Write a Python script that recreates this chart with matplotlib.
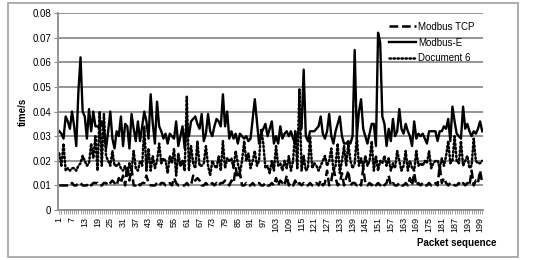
import matplotlib
matplotlib.use("Agg")
import matplotlib.pyplot as plt
from matplotlib.patches import Rectangle

plt.rcParams['font.family'] = ['Liberation Sans', 'DejaVu Sans']

packets = list(range(1, 201))

modbus_tcp = [
    0.010, 0.010, 0.010, 0.010, 0.010, 0.010, 0.011, 0.010, 0.010, 0.011,
    0.011, 0.010, 0.010, 0.010, 0.011, 0.010, 0.011, 0.011, 0.011, 0.010,
    0.010, 0.011, 0.011, 0.010, 0.011, 0.012, 0.011, 0.010, 0.013, 0.011,
    0.014, 0.010, 0.018, 0.012, 0.017, 0.010, 0.010, 0.011, 0.010, 0.011,
    0.011, 0.014, 0.011, 0.010, 0.010, 0.010, 0.011, 0.010, 0.011, 0.011,
    0.010, 0.010, 0.011, 0.010, 0.013, 0.011, 0.010, 0.010, 0.010, 0.010,
    0.011, 0.010, 0.010, 0.014, 0.012, 0.013, 0.012, 0.010, 0.010, 0.011,
    0.010, 0.010, 0.011, 0.010, 0.011, 0.010, 0.011, 0.011, 0.012, 0.011,
    0.010, 0.012, 0.011, 0.017, 0.013, 0.015, 0.010, 0.010, 0.011, 0.010,
    0.010, 0.011, 0.010, 0.010, 0.011, 0.010, 0.010, 0.011, 0.010, 0.010,
    0.011, 0.010, 0.013, 0.010, 0.012, 0.011, 0.010, 0.014, 0.010, 0.011,
    0.010, 0.012, 0.010, 0.011, 0.010, 0.011, 0.010, 0.010, 0.011, 0.010,
    0.010, 0.011, 0.010, 0.012, 0.010, 0.011, 0.016, 0.010, 0.012, 0.017,
    0.013, 0.010, 0.011, 0.015, 0.010, 0.013, 0.016, 0.010, 0.011, 0.011,
    0.010, 0.011, 0.010, 0.017, 0.011, 0.010, 0.011, 0.010, 0.011, 0.010,
    0.011, 0.010, 0.011, 0.010, 0.011, 0.014, 0.010, 0.011, 0.010, 0.010,
    0.011, 0.010, 0.010, 0.011, 0.010, 0.013, 0.010, 0.015, 0.010, 0.011,
    0.010, 0.011, 0.010, 0.010, 0.011, 0.010, 0.010, 0.011, 0.010, 0.018,
    0.011, 0.013, 0.011, 0.010, 0.011, 0.011, 0.010, 0.010, 0.011, 0.010,
    0.011, 0.010, 0.011, 0.010, 0.016, 0.010, 0.012, 0.011, 0.016, 0.011,
]

modbus_e = [
    0.032, 0.031, 0.029, 0.038, 0.036, 0.033, 0.040, 0.034, 0.026, 0.048,
    0.062, 0.040, 0.038, 0.029, 0.041, 0.032, 0.040, 0.034, 0.034, 0.033,
    0.036, 0.033, 0.025, 0.032, 0.040, 0.029, 0.025, 0.032, 0.030, 0.038,
    0.026, 0.035, 0.034, 0.025, 0.039, 0.033, 0.028, 0.036, 0.028, 0.034,
    0.040, 0.036, 0.029, 0.047, 0.035, 0.027, 0.044, 0.034, 0.032, 0.029,
    0.031, 0.027, 0.031, 0.030, 0.029, 0.036, 0.026, 0.030, 0.034, 0.025,
    0.036, 0.030, 0.036, 0.037, 0.038, 0.035, 0.033, 0.039, 0.028, 0.031,
    0.039, 0.032, 0.030, 0.034, 0.037, 0.036, 0.034, 0.047, 0.034, 0.040,
    0.029, 0.032, 0.029, 0.031, 0.027, 0.031, 0.030, 0.029, 0.030, 0.028,
    0.029, 0.037, 0.045, 0.036, 0.027, 0.031, 0.033, 0.035, 0.030, 0.033,
    0.036, 0.027, 0.030, 0.027, 0.034, 0.029, 0.031, 0.032, 0.030, 0.032,
    0.029, 0.027, 0.031, 0.033, 0.033, 0.057, 0.030, 0.028, 0.032, 0.032,
    0.032, 0.033, 0.034, 0.038, 0.031, 0.029, 0.032, 0.039, 0.030, 0.027,
    0.032, 0.035, 0.038, 0.030, 0.027, 0.027, 0.028, 0.027, 0.030, 0.065,
    0.030, 0.040, 0.045, 0.033, 0.030, 0.027, 0.031, 0.035, 0.035, 0.026,
    0.072, 0.068, 0.038, 0.035, 0.026, 0.033, 0.028, 0.037, 0.030, 0.032,
    0.041, 0.033, 0.031, 0.035, 0.032, 0.030, 0.026, 0.036, 0.029, 0.031,
    0.030, 0.031, 0.029, 0.027, 0.032, 0.032, 0.032, 0.032, 0.028, 0.032,
    0.032, 0.034, 0.033, 0.037, 0.028, 0.042, 0.036, 0.031, 0.030, 0.029,
    0.042, 0.033, 0.035, 0.032, 0.030, 0.032, 0.031, 0.033, 0.036, 0.032,
]

document6 = [
    0.023, 0.018, 0.027, 0.016, 0.017, 0.016, 0.017, 0.017, 0.016, 0.018,
    0.019, 0.022, 0.020, 0.018, 0.019, 0.027, 0.021, 0.030, 0.016, 0.040,
    0.018, 0.039, 0.022, 0.020, 0.018, 0.024, 0.018, 0.018, 0.019, 0.017,
    0.016, 0.018, 0.014, 0.019, 0.016, 0.024, 0.017, 0.016, 0.020, 0.018,
    0.034, 0.016, 0.025, 0.016, 0.022, 0.017, 0.020, 0.027, 0.019, 0.021,
    0.020, 0.015, 0.022, 0.019, 0.025, 0.014, 0.023, 0.018, 0.020, 0.016,
    0.046, 0.016, 0.026, 0.019, 0.017, 0.028, 0.018, 0.018, 0.019, 0.026,
    0.018, 0.014, 0.020, 0.018, 0.017, 0.022, 0.016, 0.028, 0.017, 0.021,
    0.020, 0.021, 0.017, 0.024, 0.019, 0.015, 0.020, 0.028, 0.020, 0.023,
    0.017, 0.020, 0.024, 0.018, 0.020, 0.033, 0.027, 0.017, 0.018, 0.015,
    0.020, 0.016, 0.026, 0.018, 0.019, 0.016, 0.020, 0.017, 0.022, 0.016,
    0.020, 0.032, 0.017, 0.049, 0.016, 0.022, 0.016, 0.017, 0.030, 0.017,
    0.019, 0.018, 0.016, 0.018, 0.020, 0.022, 0.018, 0.020, 0.025, 0.016,
    0.018, 0.027, 0.015, 0.020, 0.026, 0.018, 0.027, 0.020, 0.017, 0.019,
    0.030, 0.018, 0.021, 0.017, 0.022, 0.018, 0.020, 0.028, 0.016, 0.022,
    0.016, 0.020, 0.019, 0.022, 0.018, 0.021, 0.016, 0.019, 0.017, 0.024,
    0.020, 0.016, 0.018, 0.024, 0.016, 0.020, 0.017, 0.016, 0.024, 0.018,
    0.019, 0.018, 0.020, 0.019, 0.024, 0.017, 0.019, 0.020, 0.020, 0.017,
    0.021, 0.018, 0.022, 0.028, 0.019, 0.020, 0.030, 0.020, 0.019, 0.028,
    0.018, 0.020, 0.022, 0.017, 0.018, 0.029, 0.020, 0.019, 0.019, 0.020,
]

fig = plt.figure(figsize=(5.34, 2.60), dpi=100)
ax = fig.add_axes([0.109, 0.192, 0.796, 0.758])

grey = '#8c8c8c'
ax.plot(packets, modbus_tcp, color='black', lw=1.8, dashes=(3.5, 1.5), label='Modbus TCP')
ax.plot(packets, modbus_e, color='black', lw=1.7, label='Modbus-E')
ax.plot(packets, document6, color='black', lw=1.8, dashes=(0.6, 1.0),
        dash_capstyle='round', label='Document 6')

ax.set_xlim(0.5, 200.5)
ax.set_ylim(0, 0.08)
ax.set_yticks([i / 100 for i in range(9)])
ax.set_yticklabels(['0'] + ['%.2f' % (i / 100) for i in range(1, 9)])
ax.yaxis.grid(True, color=grey, lw=1.3)
ax.set_axisbelow(True)

ax.set_xticks(packets[::6])
ax.set_xticklabels([str(p) for p in packets[::6]], rotation=90)
ax.set_xticks(packets, minor=True)
ax.tick_params(axis='x', which='both', length=3, color=grey, width=0.6, labelsize=6.5, pad=2)
ax.tick_params(axis='y', length=3, color=grey, labelsize=7, pad=2)

for side in ['top', 'right']:
    ax.spines[side].set_visible(False)
for side in ['left', 'bottom']:
    ax.spines[side].set_color(grey)
    ax.spines[side].set_linewidth(1.3)

ax.set_ylabel('time/s', fontsize=7, fontweight='bold', labelpad=3)
fig.text(0.93, 0.065, 'Packet sequence', fontsize=7, fontweight='bold', ha='right', va='center')

leg = ax.legend(loc='upper right', bbox_to_anchor=(1.0, 1.0), frameon=False, fontsize=7,
                handlelength=2.8, handletextpad=0.2, labelspacing=0.6)

fig.patches.append(Rectangle((0.015, 0.012), 0.955, 0.975, transform=fig.transFigure,
                             fill=False, edgecolor='#a0a0a0', lw=1.2))

fig.savefig('out.png', dpi=100)
